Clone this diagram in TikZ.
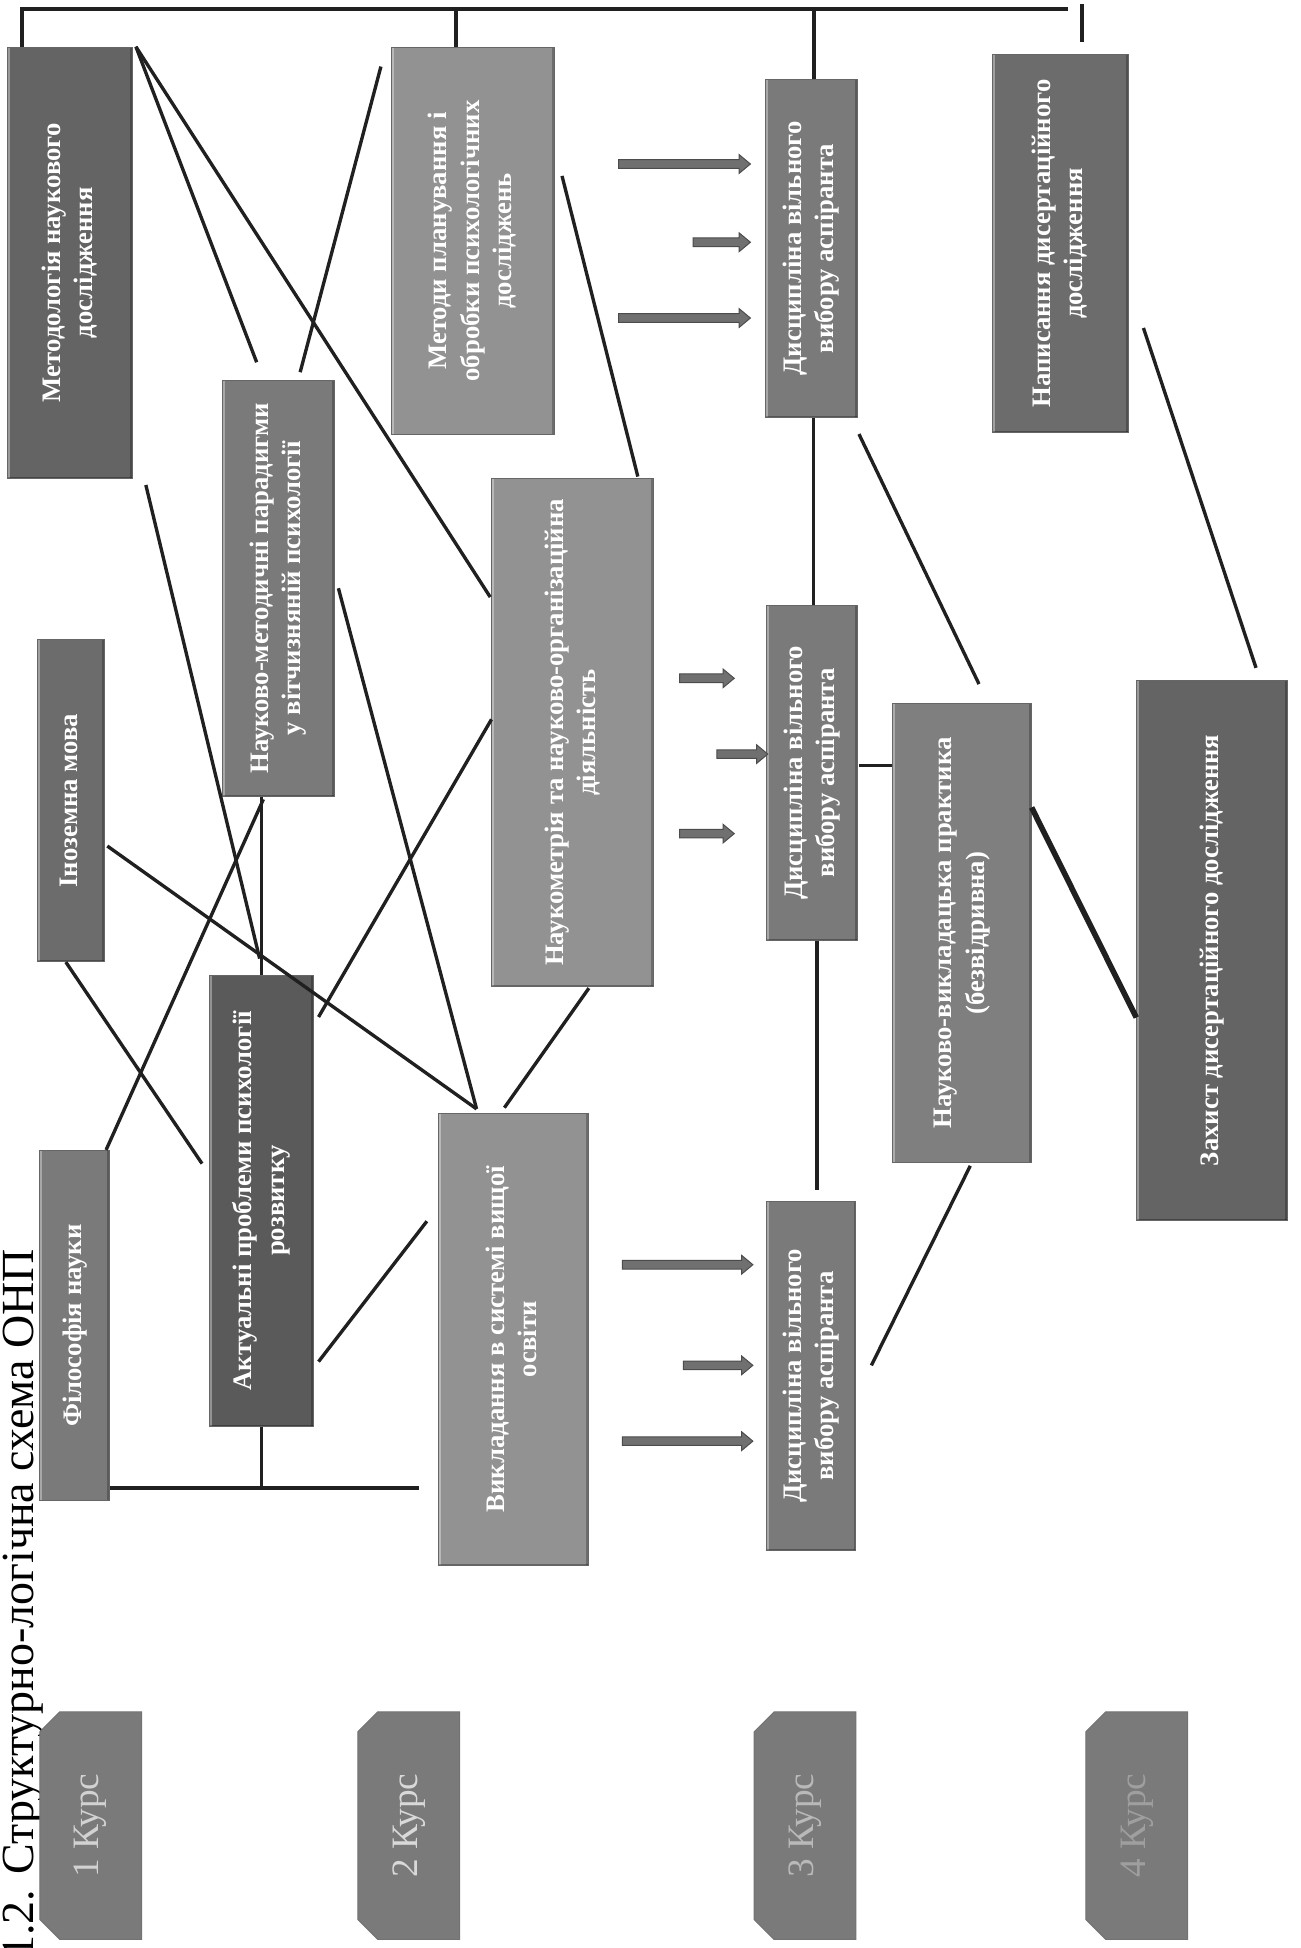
\documentclass[tikz,border=0pt]{standalone}
\usepackage{fontspec}
\setmainfont{Liberation Serif}
\usepackage{graphicx}
\usetikzlibrary{calc, shapes.misc}
\definecolor{temnyi}{RGB}{100,100,100}
\definecolor{serednii}{RGB}{122,122,122}
\definecolor{svitlyi}{RGB}{146,146,146}
\definecolor{liniia}{RGB}{32,32,32}
\definecolor{strilkasira}{RGB}{112,112,112}

\newcommand{\povernuty}[1]{\rotatebox{90}{\begin{tabular}{@{}c@{}}#1\end{tabular}}}

\tikzset{
  predmet/.style={rectangle, draw=black!60, line width=0.8pt, fill=#1, text=white, inner sep=0pt,
    font=\fontsize{21.5}{26}\selectfont\bfseries,
    path picture={
      \draw[white, opacity=0.35, line width=4pt]
        (path picture bounding box.south west) -- (path picture bounding box.north west);
      \draw[black, opacity=0.25, line width=4pt]
        (path picture bounding box.south east) -- (path picture bounding box.north east);
      \draw[black, opacity=0.3, line width=2pt]
        (path picture bounding box.south west) -- (path picture bounding box.south east);}},
  predmet/.default=serednii,
  kurs/.style={chamfered rectangle, chamfered rectangle corners={north west, south west},
    chamfered rectangle sep=8pt, draw=black!55, line width=0.8pt, fill=serednii,
    minimum width=82pt, minimum height=183pt, inner sep=0pt,
    font=\fontsize{30}{32}\selectfont},
  zviazok/.style={line width=2.7pt, liniia},
  shyna/.style={line width=3pt, liniia},
  strilka/.style={fill=strilkasira, draw=black!70, line width=0.8pt, line join=miter}
}

\begin{document}
\begin{tikzpicture}[x=1pt, y=-1pt]
  \useasboundingbox (0,0) rectangle (1047,1568);
  \fill[white] (0,0) rectangle (1047,1568);

  % zagolovok
  \node[anchor=north east, inner sep=0pt, font=\fontsize{37}{40}\selectfont] (nazva) at (35,1005)
    {\rotatebox{90}{1.2. Структурно-логічна схема ОНП}};

  % dystsypliny
  \node[predmet=temnyi, minimum width=101pt, minimum height=347pt] (metod) at (56.5,211.5)
    {\povernuty{Методологія наукового\\дослідження}};
  \node[predmet=svitlyi, minimum width=131pt, minimum height=312pt] (metplan) at (380.5,194)
    {\povernuty{Методи планування і\\обробки психологічних\\досліджень}};
  \node[predmet, minimum width=74pt, minimum height=272pt] (discA) at (653,200)
    {\povernuty{Дисципліна вільного\\вибору аспіранта}};
  \node[predmet=temnyi!95!white, minimum width=109pt, minimum height=304pt] (napys) at (853.5,196)
    {\povernuty{Написання дисертаційного\\дослідження}};
  \node[predmet, minimum width=90pt, minimum height=335pt] (paradyg) at (224,473.5)
    {\povernuty{Науково-методичні парадигми\\у вітчизняній психології}};
  \node[predmet=svitlyi, minimum width=130pt, minimum height=409pt] (naukom) at (461,589.5)
    {\povernuty{Наукометрія  та науково-організаційна\\діяльність}};
  \node[predmet=temnyi!95!white, minimum width=54pt, minimum height=259pt] (inoz) at (57,644.5)
    {\povernuty{Іноземна мова}};
  \node[predmet, minimum width=73pt, minimum height=270pt] (discB) at (653.5,622)
    {\povernuty{Дисципліна вільного\\вибору аспіранта}};
  \node[predmet=serednii!80!svitlyi, minimum width=112pt, minimum height=370pt] (praktyka) at (774,751)
    {\povernuty{Науково-викладацька практика\\(безвідривна)}};
  \node[predmet=temnyi, minimum width=121pt, minimum height=434pt] (zahyst) at (975.5,765)
    {\povernuty{Захист дисертаційного дослідження}};
  \node[predmet, minimum width=56pt, minimum height=282pt] (filos) at (60,1067)
    {\povernuty{Філософія науки}};
  \node[predmet=temnyi!90!black, minimum width=83pt, minimum height=363pt] (aktual) at (210.5,966.5)
    {\povernuty{Актуальні проблеми психології\\розвитку}};
  \node[predmet=svitlyi, minimum width=121pt, minimum height=364pt] (vykl) at (413.5,1078)
    {\povernuty{Викладання в системі вищої\\освіти}};
  \node[predmet, minimum width=72pt, minimum height=281pt] (discC) at (653,1107.5)
    {\povernuty{Дисципліна вільного\\вибору аспіранта}};

  % kursy
  \node[kurs, text=gray!35] (kurs1) at (73,1469.5) {\rotatebox{90}{1 Курс}};
  \node[kurs, text=gray!30] (kurs2) at (329,1469.5) {\rotatebox{90}{2 Курс}};
  \node[kurs, text=gray!55] (kurs3) at (648,1469.5) {\rotatebox{90}{3 Курс}};
  \node[kurs, text=gray!75] (kurs4) at (915,1469.5) {\rotatebox{90}{4 Курс}};

  % verkhnia shyna
  \coordinate (kinec) at (860,7);
  \draw[shyna] ([xshift=-38.5]metod.north) |- (kinec);
  \draw[shyna] ([xshift=-13.5]metplan.north) -- ([xshift=-13.5]metplan.north |- kinec);
  \draw[shyna] ([xshift=2]discA.north) -- ([xshift=2]discA.north |- kinec);
  \draw[shyna] ([xshift=17.5,yshift=10]napys.north) -- ++(0,-30);

  % nyzhnia shyna
  \coordinate (nyz) at (337,1198);
  \draw[shyna] (filos.east |- nyz) -- (nyz);
  \draw[shyna] (aktual.south) -- (aktual.south |- nyz);

  % zviazky
  \draw[zviazok] ([xshift=2]metod.north east) -- ([xshift=28,yshift=14]paradyg.north west);
  \draw[zviazok] ([xshift=2]metod.north east) -- ([xshift=-1,yshift=-96]naukom.north west);
  \draw[zviazok] ([xshift=-8,yshift=-16]metplan.north west) -- ([xshift=63,yshift=6]paradyg.north west);
  \draw[zviazok] ([xshift=6,yshift=-104]metplan.north east) -- ([xshift=-13,yshift=1]naukom.north east);
  \draw[zviazok] ([xshift=10,yshift=-5]metod.south east) -- ([xshift=-1.5,yshift=13]aktual.north);
  \draw[zviazok] (aktual.north |- paradyg.south) -- (aktual.north);
  \draw[zviazok] ([xshift=-12,yshift=-2]paradyg.south) -- ([xshift=-3]filos.north east);
  \draw[zviazok] ([xshift=2,yshift=-36.5]inoz.east) -- ([xshift=31,yshift=3]vykl.north west);
  \draw[zviazok] ([xshift=-4]inoz.south) -- ([xshift=-6,yshift=-152]aktual.north west);
  \draw[zviazok] ([yshift=10.5]naukom.west) -- ([xshift=4,yshift=-34]aktual.north east);
  \draw[zviazok] ([xshift=3]paradyg.east) -- ([xshift=31,yshift=3]vykl.north west);
  \draw[zviazok] ([xshift=13,yshift=-1]naukom.south) -- ([xshift=-7.5,yshift=4]vykl.north);
  \draw[zviazok] ([xshift=4,yshift=-129.5]aktual.east) -- ([xshift=-9,yshift=95]vykl.west);
  \draw[zviazok] ([xshift=2]discA.south) -- ([xshift=2]discA.south |- discB.north);
  \draw[zviazok] ([xshift=4]discB.south) -- ($(discB.south |- discC.north)+(4,-9)$);
  \draw[zviazok] ([xshift=1,yshift=6]discB.east) -- ($(discB.east -| praktyka.west)+(0,-6)$);
  \draw[zviazok] ([xshift=1,yshift=-13]discA.south east) -- ([xshift=14,yshift=15]praktyka.north);
  \draw[zviazok] ([xshift=12,yshift=-68]napys.east) -- ([xshift=35.5,yshift=10]zahyst.north);
  \draw[zviazok, line width=4.5pt] ([yshift=101]praktyka.east) -- ([yshift=-54]zahyst.west);
  \draw[zviazok] ([xshift=7,yshift=-2]praktyka.south) -- ([xshift=12,yshift=8.5]discC.east);

  % strilky do dystsyplin vilnoho vyboru
  \foreach \xa/\xb/\yy in {498/604/132, 558/604/195, 498/604/256,
                           547/591/546, 577/618/607, 547/591/671,
                           501/606/1018, 550/606/1099, 501/606/1160}
    \filldraw[strilka] (\xa,\yy-3.5) -- (\xb-9,\yy-3.5) -- (\xb-9,\yy-7.5) -- (\xb,\yy)
      -- (\xb-9,\yy+7.5) -- (\xb-9,\yy+3.5) -- (\xa,\yy+3.5) -- cycle;
\end{tikzpicture}
\end{document}
